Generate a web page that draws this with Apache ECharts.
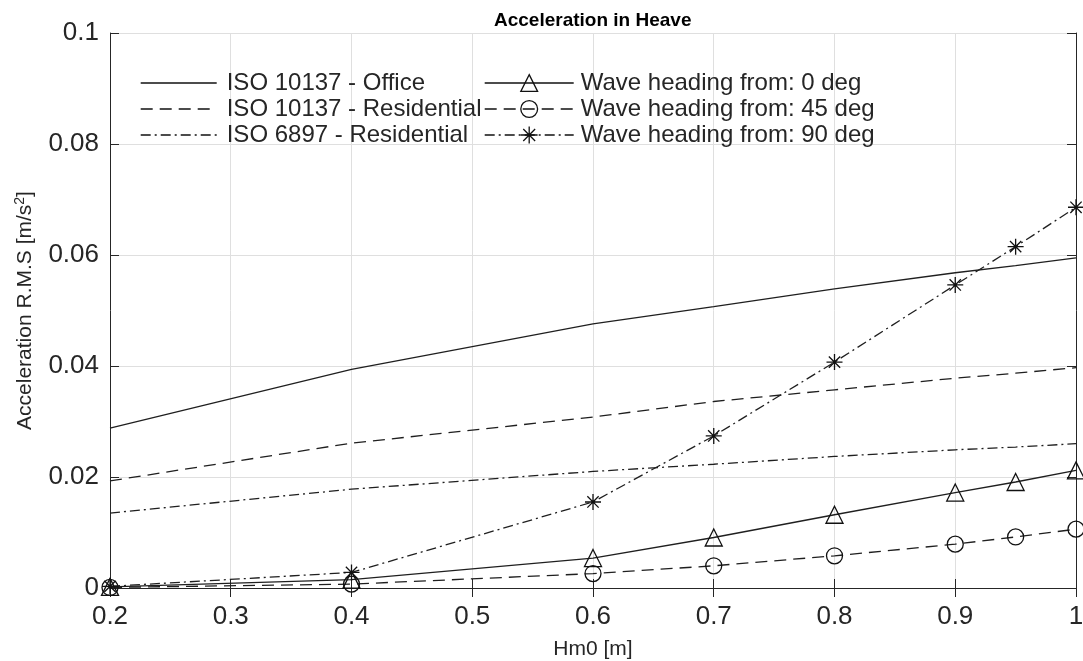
<!DOCTYPE html>
<html>
<head>
<meta charset="utf-8">
<script src="https://cdn.jsdelivr.net/npm/echarts@6/dist/echarts.min.js"></script>
<style>
  html, body { margin: 0; padding: 0; background: #fff; }
  #main { width: 1083px; height: 661px; }
</style>
</head>
<body>
<div id="main"></div>
<script>
// wave height Hm0 [m]
const hm0 = [0.2, 0.4, 0.6, 0.7, 0.8, 0.9, 0.95, 1.0]
// comfort limits
const isoOffice = [0.0288, 0.0394, 0.0476, 0.0507, 0.0539, 0.0568, 0.0581, 0.0595]
const isoResidential = [0.0193, 0.0261, 0.0308, 0.0336, 0.0357, 0.0378, 0.0387, 0.0397]
const iso6897 = [0.0135, 0.0178, 0.0210, 0.0223, 0.0237, 0.0249, 0.0254, 0.0260]
// computed rms acceleration per wave heading
const wave0 = [0.0002, 0.0015, 0.0054, 0.0091, 0.0132, 0.0172, 0.0191, 0.0212]
const wave45 = [0.0001, 0.0007, 0.0026, 0.0040, 0.0058, 0.0079, 0.0092, 0.0106]
const wave90 = [0.0003, 0.0028, 0.0155, 0.0274, 0.0407, 0.0546, 0.0615, 0.0686]

const xTicks = [0.2, 1.0, 0.1]   // min, max, step
const yTicks = [0, 0.1, 0.02]

const ink = '#262626'
const font = "'Liberation Sans', Arial, sans-serif"
const asterisk = 'path://M10,0L10,20M0,10L20,10M2.93,2.93L17.07,17.07M2.93,17.07L17.07,2.93'
const noFill = 'rgba(0,0,0,0)'

const pairs = ys => hm0.map((x, i) => [x, ys[i]])

const defs = [
  { name: 'ISO 10137 - Office', data: isoOffice, dash: 'solid', symbol: 'none' },
  { name: 'ISO 10137 - Residential', data: isoResidential, dash: [12, 7], symbol: 'none' },
  { name: 'ISO 6897 - Residential', data: iso6897, dash: [10, 4, 2, 4], symbol: 'none' },
  { name: 'Wave heading from: 0 deg', data: wave0, dash: 'solid', symbol: 'triangle', size: 17 },
  { name: 'Wave heading from: 45 deg', data: wave45, dash: [12, 7], symbol: 'circle', size: 16 },
  { name: 'Wave heading from: 90 deg', data: wave90, dash: [10, 4, 2, 4], symbol: asterisk, size: 16 }
]

const markStyle = d => ({
  color: noFill,
  borderColor: d.symbol === 'none' ? noFill : '#111',
  borderWidth: d.symbol === 'none' ? 0 : 1.3
})

const series = defs.map(d => ({
  name: d.name,
  type: 'line',
  data: pairs(d.data),
  symbol: d.symbol,
  symbolSize: d.size || 0,
  showSymbol: d.symbol !== 'none',
  clip: false,
  animation: false,
  lineStyle: { color: '#1f1f1f', width: 1.3, type: d.dash },
  itemStyle: markStyle(d),
  emphasis: { disabled: true }
}))

const legendItem = d => ({
  name: d.name,
  itemStyle: markStyle(d),
  lineStyle: { color: '#111', width: 1.4, type: d.dash }
})

const legendBase = {
  orient: 'vertical',
  top: 71,
  padding: 0,
  itemHeight: 21,
  itemGap: 2,
  selectedMode: false
}

const chart = echarts.init(document.getElementById('main'))
chart.setOption({
  backgroundColor: '#fff',
  animation: false,
  title: {
    text: 'Acceleration in Heave',
    left: 494,
    top: 11,
    padding: 0,
    textStyle: { fontSize: 19, fontWeight: 'bold', color: '#000', fontFamily: font }
  },
  legend: [
    Object.assign({}, legendBase, {
      left: 140, itemWidth: 76, data: defs.slice(0, 3).map(legendItem),
      textStyle: { fontSize: 24, color: ink, fontFamily: font, padding: [0, 0, 0, 5] }
    }),
    Object.assign({}, legendBase, {
      left: 484, itemWidth: 89, data: defs.slice(3).map(legendItem),
      textStyle: { fontSize: 24, color: ink, fontFamily: font, padding: [0, 0, 0, 2] }
    })
  ],
  grid: { left: 110, right: 7, top: 33, bottom: 73, outerBoundsMode: 'none', containLabel: false },
  xAxis: [
    {
      type: 'value', min: xTicks[0], max: xTicks[1], interval: xTicks[2],
      name: 'Hm0 [m]', nameLocation: 'middle', nameGap: 51,
      nameTextStyle: { fontSize: 21, color: ink, fontFamily: font },
      axisLine: { show: true, lineStyle: { color: ink, width: 1 } },
      axisTick: { show: true, inside: true, length: 9, lineStyle: { color: ink } },
      axisLabel: { fontSize: 26, color: ink, fontFamily: font, margin: 16, showMinLabel: true, showMaxLabel: true, hideOverlap: false },
      splitLine: { show: true, lineStyle: { color: '#dfdfdf', width: 1 } }
    },
    {
      type: 'value', position: 'top', min: xTicks[0], max: xTicks[1], interval: xTicks[2],
      axisLine: { show: true, lineStyle: { color: ink, width: 1 } },
      axisTick: { show: true, inside: true, length: 9, lineStyle: { color: ink } },
      axisLabel: { show: false },
      splitLine: { show: false }
    }
  ],
  yAxis: [
    {
      type: 'value', min: yTicks[0], max: yTicks[1], interval: yTicks[2],
      name: 'Acceleration R.M.S [m/s{sup|2}]', nameLocation: 'middle', nameGap: 73,
      nameTextStyle: {
        fontSize: 21, color: ink, fontFamily: font,
        rich: { sup: { fontSize: 14, color: ink, fontFamily: font, verticalAlign: 'top', padding: [0, 0, 10, 0] } }
      },
      axisLine: { show: true, lineStyle: { color: ink, width: 1 } },
      axisTick: { show: true, inside: true, length: 9, lineStyle: { color: ink } },
      axisLabel: { fontSize: 26, color: ink, fontFamily: font, margin: 11, showMinLabel: true, showMaxLabel: true, hideOverlap: false },
      splitLine: { show: true, lineStyle: { color: '#dfdfdf', width: 1 } }
    },
    {
      type: 'value', position: 'right', min: yTicks[0], max: yTicks[1], interval: yTicks[2],
      axisLine: { show: true, lineStyle: { color: ink, width: 1 } },
      axisTick: { show: true, inside: true, length: 9, lineStyle: { color: ink } },
      axisLabel: { show: false },
      splitLine: { show: false }
    }
  ],
  series: series
})
</script>
</body>
</html>
